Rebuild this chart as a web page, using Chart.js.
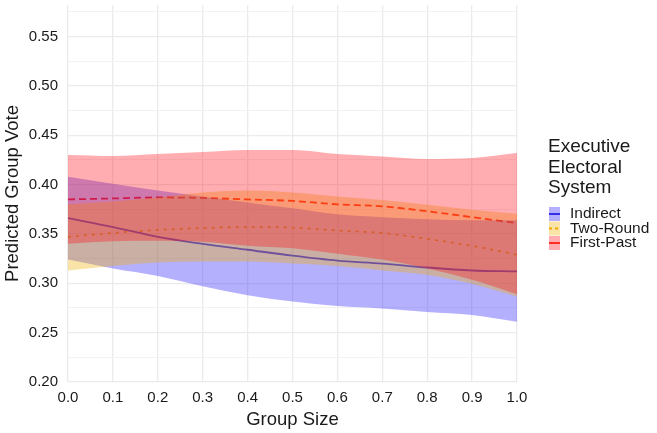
<!DOCTYPE html>
<html>
<head>
<meta charset="utf-8">
<script src="https://cdn.jsdelivr.net/npm/chart.js@4.4.0/dist/chart.umd.min.js"></script>
<style>
  html, body { margin: 0; padding: 0; background: #fff; }
</style>
</head>
<body>
<canvas id="chart" width="657" height="433"></canvas>
<script>
// group size values along the x axis
const groupSize = [0.0, 0.1, 0.2, 0.3, 0.4, 0.5, 0.6, 0.7, 0.8, 0.9, 1.0];

// predicted vote + interval
const indirectFit  = [0.366, 0.357, 0.347, 0.340, 0.334, 0.328, 0.323, 0.320, 0.316, 0.313, 0.312];
const indirectLow  = [0.324, 0.315, 0.3075, 0.297, 0.288, 0.2815, 0.277, 0.2745, 0.271, 0.268, 0.261];
const indirectHigh = [0.408, 0.401, 0.394, 0.388, 0.382, 0.376, 0.370, 0.367, 0.365, 0.364, 0.364];

const twoRoundFit  = [0.347, 0.351, 0.354, 0.356, 0.357, 0.3565, 0.3535, 0.351, 0.345, 0.338, 0.329];
const twoRoundLow  = [0.313, 0.3175, 0.321, 0.322, 0.322, 0.320, 0.3175, 0.313, 0.3085, 0.2995, 0.2865];
const twoRoundHigh = [0.380, 0.383, 0.387, 0.392, 0.394, 0.392, 0.388, 0.3845, 0.3795, 0.3745, 0.3705];

const firstPastFit  = [0.385, 0.386, 0.387, 0.3865, 0.385, 0.3835, 0.380, 0.378, 0.373, 0.367, 0.361];
const firstPastLow  = [0.340, 0.3425, 0.343, 0.342, 0.338, 0.3355, 0.330, 0.324, 0.315, 0.3035, 0.289];
const firstPastHigh = [0.430, 0.429, 0.431, 0.433, 0.435, 0.435, 0.431, 0.4285, 0.426, 0.427, 0.432];

const systems = ['Indirect', 'Two-Round', 'First-Past'];
const lineColors = ['rgb(40,35,230)', 'rgb(240,165,0)', 'rgb(255,35,20)'];
const ribbonColors = ['rgba(40,30,250,0.35)', 'rgba(240,175,0,0.35)', 'rgba(255,20,30,0.35)'];
const dashes = [[], [3, 5], [7, 4]];

const txt = '#1a1a1a';
const fontFam = '"Liberation Sans", Arial, sans-serif';

function pts(arr) {
  return groupSize.map((x, i) => ({ x: x, y: arr[i] }));
}

function ribbon(low, high, color, order) {
  return [
    { data: pts(low), borderWidth: 0, borderColor: 'transparent', pointRadius: 0, fill: false, order: order, cubicInterpolationMode: 'monotone' },
    { data: pts(high), borderWidth: 0, borderColor: 'transparent', pointRadius: 0, fill: '-1', backgroundColor: color, order: order, cubicInterpolationMode: 'monotone' }
  ];
}

function fitLine(fit, i) {
  return {
    label: systems[i], data: pts(fit), borderColor: lineColors[i], borderWidth: 1.8,
    borderDash: dashes[i], pointRadius: 0, fill: false, order: 10, cubicInterpolationMode: 'monotone'
  };
}

// lines drawn first, ribbons laid over them (as in the original)
const datasets = [
  fitLine(indirectFit, 0),
  fitLine(twoRoundFit, 1),
  fitLine(firstPastFit, 2),
  ...ribbon(indirectLow, indirectHigh, ribbonColors[0], 3),
  ...ribbon(twoRoundLow, twoRoundHigh, ribbonColors[1], 2),
  ...ribbon(firstPastLow, firstPastHigh, ribbonColors[2], 1)
];

const isMajor = v => Math.abs(v * 20 - Math.round(v * 20)) < 1e-6;

const legendPlugin = {
  id: 'sideLegend',
  afterDraw(chart) {
    const ctx = chart.ctx;
    ctx.save();
    ctx.fillStyle = txt;
    ctx.textBaseline = 'middle';
    ctx.textAlign = 'left';
    ctx.font = '19px ' + fontFam;
    ['Executive', 'Electoral', 'System'].forEach((t, i) => ctx.fillText(t, 548, 147 + i * 20.5));
    ctx.font = '15.5px ' + fontFam;
    systems.forEach((name, i) => {
      const cy = 214 + i * 14.5;
      ctx.beginPath();
      ctx.strokeStyle = lineColors[i];
      ctx.lineWidth = 1.8;
      ctx.setLineDash(i === 1 ? [3, 3] : []);
      ctx.moveTo(549, cy);
      ctx.lineTo(560, cy);
      ctx.stroke();
      ctx.setLineDash([]);
      ctx.fillStyle = ribbonColors[i];
      ctx.fillRect(549, cy - 7, 11, 14);
      ctx.fillStyle = txt;
      ctx.fillText(name, 570, cy);
    });
    ctx.restore();
  }
};

new Chart(document.getElementById('chart'), {
  type: 'line',
  data: { datasets: datasets },
  options: {
    responsive: false,
    animation: false,
    layout: { padding: { left: 0, right: 140, top: 5, bottom: 0 } },
    plugins: { legend: { display: false }, tooltip: { enabled: false } },
    scales: {
      x: {
        type: 'linear', min: 0, max: 1,
        afterFit: s => { s.height = 51; s.paddingLeft = 0; s.paddingRight = 0; },
        ticks: { stepSize: 0.1, callback: v => v.toFixed(1), color: txt, padding: 7, font: { size: 15, family: fontFam } },
        grid: { color: '#ebebeb', lineWidth: 1.3, drawTicks: false },
        border: { display: false },
        title: { display: true, text: 'Group Size', color: txt, font: { size: 18.5, family: fontFam }, padding: { top: 0, bottom: 2 } }
      },
      y: {
        min: 0.2, max: 0.582,
        afterFit: s => { s.width = 68; s.paddingTop = 0; s.paddingBottom = 0; },
        ticks: {
          stepSize: 0.025, includeBounds: false, color: txt, padding: 10, font: { size: 15, family: fontFam },
          callback: v => isMajor(v) ? v.toFixed(2) : ''
        },
        grid: {
          color: c => isMajor(c.tick.value) ? '#ebebeb' : '#f2f2f2',
          lineWidth: c => isMajor(c.tick.value) ? 1.3 : 1,
          drawTicks: false
        },
        border: { display: false },
        title: { display: true, text: 'Predicted Group Vote', color: txt, font: { size: 18.5, family: fontFam }, padding: { top: 2, bottom: 0 } }
      }
    }
  },
  plugins: [legendPlugin]
});
</script>
</body>
</html>
